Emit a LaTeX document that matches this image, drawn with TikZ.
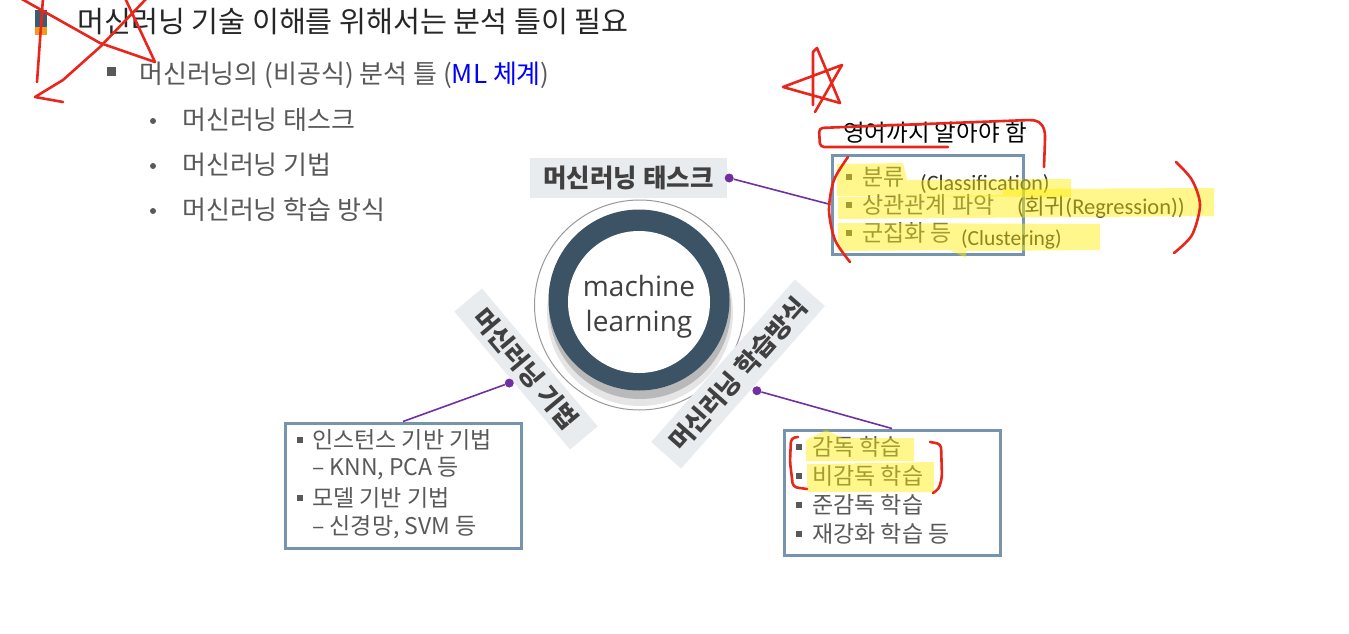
\documentclass[tikz,border=0pt]{standalone}
\usepackage{fontspec}
\setmainfont{Noto Sans CJK KR}
\newfontfamily\carl{Carlito}
\newfontfamily\osans{Open Sans}
\usetikzlibrary{calc}
\definecolor{txtgray}{HTML}{595959}
\definecolor{titlec}{HTML}{262626}
\definecolor{framec}{HTML}{7694AE}
\definecolor{purp}{HTML}{7030A0}
\definecolor{lblfill}{HTML}{E9ECEF}
\definecolor{lbltext}{HTML}{404040}
\definecolor{ringc}{HTML}{3C5366}
\definecolor{mlblue}{HTML}{0000FF}
\definecolor{redc}{HTML}{E8261C}
\definecolor{hlc}{RGB}{255,238,0}
\definecolor{bulblue}{HTML}{3E5C70}
\definecolor{bulor}{HTML}{F29A1E}
\definecolor{anntext}{HTML}{333333}
\tikzset{
  txt/.style={anchor=west, inner sep=0pt, text=txtgray, font=\fontsize{23}{27}\selectfont},
  big/.style={anchor=west, inner sep=0pt, text=txtgray, font=\fontsize{26}{30}\selectfont},
  lbl/.style={fill=lblfill, text=lbltext, inner sep=0pt, font=\fontsize{25.5}{29}\selectfont\bfseries},
  box/.style={draw=framec, line width=3pt, fill=white, inner sep=0pt},
  conn/.style={draw=purp, line width=1.6pt},
  dot/.style={circle, fill=purp, inner sep=0pt, minimum size=9pt},
  pen/.style={draw=redc, line width=2.6pt, line cap=round, line join=round},
  hl/.style={fill=hlc, opacity=0.45},
  sq/.style={fill=txtgray, inner sep=0pt, minimum size=6pt},
  rnd/.style={circle, fill=txtgray, inner sep=0pt, minimum size=6pt},
  ann/.style={anchor=west, inner sep=0pt, text=anntext}
}
\begin{document}
\begin{tikzpicture}[x=1pt,y=-1pt]
\useasboundingbox (0,0) rectangle (1349,634);
\fill[white] (0,0) rectangle (1349,634);

% title and bullets
\fill[bulblue] (35,10) rectangle (47,27);
\fill[bulor] (35,27) rectangle (47,35);
\node[anchor=west, inner sep=0pt, text=titlec, font=\fontsize{29.3}{33}\selectfont] (title) at (77,22) {머신러닝 기술 이해를 위해서는 분석 틀이 필요};
\node[sq, minimum size=9pt] (subsq) at (111.5,72) {};
\node[big] (sub) at (139,75) {머신러닝의 (비공식) 분석 틀 (\textcolor{mlblue}{ML 체계})};
\node[rnd] (b1) at (153,121) {};
\node[rnd] (b2) at (153,166) {};
\node[rnd] (b3) at (153,211) {};
\node[big] (it1) at (182,120) {머신러닝 태스크};
\node[big] (it2) at (182,165) {머신러닝 기법};
\node[big] (it3) at (182,210) {머신러닝 학습 방식};

% central circle
\node[circle, draw=gray!80, line width=1pt, fill=white, minimum size=210pt, inner sep=0pt] (outer) at (639.5,305) {};
\fill[gray!20] (640,313) circle (93pt);
\fill[gray!55] (640,308) circle (91pt);
\node[circle, fill=ringc, minimum size=181pt, inner sep=0pt] (ring) at (639,300) {};
\node[circle, fill=white, minimum size=142pt, inner sep=0pt] (core) at (639,302) {};
\node[align=center, inner sep=0pt, text=lbltext, font=\osans\fontsize{28}{35}\selectfont] (ml) at (639,307) {machine\\learning};

% labels
\node[lbl, minimum width=197pt, minimum height=40pt] (task) at (628.5,178) {머신러닝 태스크};
\node[lbl, rotate=-50, minimum width=180pt, minimum height=36pt] (method) at (526,369) {머신러닝 기법};
\node[lbl, rotate=48.5, minimum width=217pt, minimum height=40pt] (learn) at (738,374) {머신러닝 학습방식};

% boxes
\node[box, minimum width=191pt, minimum height=99pt] (box1) at (927.5,204.5) {};
\node[box, minimum width=236pt, minimum height=125pt] (box2) at (403,485.5) {};
\node[box, minimum width=216pt, minimum height=125pt] (box3) at (892,492.5) {};

% dots and connectors
\node[dot] (d1) at ([xshift=2pt]task.east) {};
\node[dot] (d2) at ($(method.center)!1.2!(method.south)$) {};
\node[dot] (d3) at ($(learn.center)!1.25!(learn.south)$) {};
\draw[conn] (d1) -- (box1.west);
\draw[conn] (d2) -- (box2.north);
\draw[conn] (d3) -- (box3.north);

% box 1 items
\node[sq] (q11) at (849,177) {};
\node[sq] (q12) at (849,205) {};
\node[sq] (q13) at (849,233) {};
\node[txt] (r1) at (862,177) {분류};
\node[txt] (r2) at (862,205) {상관관계 파악};
\node[txt] (r3) at (862,233) {군집화 등};

% box 2 items
\node[sq] (q21) at (300,440) {};
\node[sq] (q23) at (300,498) {};
\node[txt] (m1) at (312,440) {인스턴스 기반 기법};
\node[txt] (m2) at (312,469) {– KNN, PCA 등};
\node[txt] (m3) at (312,498) {모델 기반 기법};
\node[txt] (m4) at (312,527) {– 신경망, SVM 등};

% box 3 items
\node[sq] (q31) at (799,447) {};
\node[sq] (q32) at (799,476) {};
\node[sq] (q33) at (799,505) {};
\node[sq] (q34) at (799,534) {};
\node[txt] (s1) at (812,447) {감독 학습};
\node[txt] (s2) at (812,476) {비감독 학습};
\node[txt] (s3) at (812,505) {준감독 학습};
\node[txt] (s4) at (812,534) {재강화 학습 등};

% annotations
\node[ann, text=black, font=\fontsize{23.5}{27}\selectfont] (eng) at (843,133) {영어까지 알아야 함};
\node[ann, font=\carl\fontsize{22}{26}\selectfont] (cls) at (920,184) {(Classification)};
\node[ann, font=\fontsize{22.5}{26}\selectfont] (reg) at (1017,207) {{\carl(}회귀{\carl(Regression))}};
\node[ann, font=\carl\fontsize{21.5}{26}\selectfont] (clu) at (961,239) {(Clustering)};

% highlights
\fill[hl] (837,164) -- (903,163) -- (907,180) -- (1071,179) -- (1071,197) -- (837,196) -- cycle;
\fill[hl] (838,197) -- (1003,195) -- (1003,189) -- (1214,188) -- (1214,216) -- (838,219) -- cycle;
\fill[hl] (838,223) -- (1100,224) -- (1100,250) -- (966,251) -- (966,258) -- (950,250) -- (838,251) -- cycle;
\fill[hl] (806,440) -- (826,430) -- (842,438) -- (914,438) -- (914,461) -- (806,461) -- cycle;
\fill[hl] (807,464) -- (934,462) -- (934,492) -- (807,492) -- cycle;

% red pen marks
\draw[pen] (20,-2) -- (100,43) -- (155,62) -- (125,-2);
\draw[pen] (147,-2) -- (100,47) -- (63,80) -- (35,97) -- (63,102);
\draw[pen] (43,-2) -- (37,82);
\draw[pen] (813,105) -- (813,52) -- (817,48) -- (840,103) -- (783,87) -- (842,65) -- (815,112);
\draw[pen, rounded corners=4pt] (948,147) -- (820,147) -- (819,128) -- (1030,120) .. controls (1041,121) and (1045,128) .. (1045,140) -- (1044,167);
\draw[pen] plot[smooth] coordinates {(848,157) (834,180) (829,210) (835,240) (850,262)};
\draw[pen] plot[smooth] coordinates {(1176,162) (1192,180) (1200,205) (1192,235) (1174,253)};
\draw[pen, rounded corners=4pt] (798,437) -- (791,438) -- (790,462) -- (793,487) -- (807,489);
\draw[pen, rounded corners=4pt] (930,442) -- (941,444) -- (942,477) -- (939,489) -- (933,493);
\end{tikzpicture}
\end{document}
